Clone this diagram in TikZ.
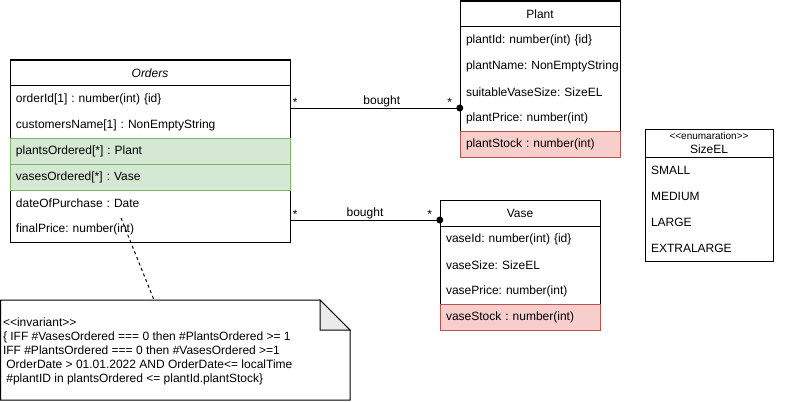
\documentclass[tikz,border=0pt]{standalone}
\usepackage{fontspec}
\setmainfont{Liberation Sans}
\usetikzlibrary{positioning, fit, backgrounds}
\definecolor{rowgreen}{HTML}{D5E8D4}
\definecolor{linegreen}{HTML}{82B366}
\definecolor{rowred}{HTML}{F8CECC}
\definecolor{linered}{HTML}{B85450}
\definecolor{foldgray}{HTML}{EBEBEB}
\newcommand{\stereo}[1]{<\kern0pt<#1>\kern0pt>}
\frenchspacing

\begin{document}
\begin{tikzpicture}[
  x=1pt, y=-1pt, line width=1pt,
  head/.style={draw, minimum height=26pt, inner sep=0pt, outer sep=0pt, font=\fontsize{12}{14}\selectfont},
  attr/.style={minimum height=26pt, text width=#1, inner xsep=6pt, inner ysep=0pt, outer sep=0pt, align=left, font=\fontsize{12}{14}\selectfont},
  keyattr/.style={attr=#1, fill=rowgreen, draw=linegreen},
  stockattr/.style={attr=#1, fill=rowred, draw=linered},
  frame/.style={draw, inner sep=0pt},
  mult/.style={above, inner sep=1pt, font=\fontsize{12}{14}\selectfont},
  node distance=0pt
]
  \useasboundingbox (0,0) rectangle (791,401);

  % Orders
  \node[head, minimum width=280pt, anchor=north west, font=\fontsize{12}{14}\selectfont\itshape] (ordHead) at (10,60) {Orders};
  \node[attr=268pt, below=of ordHead] (ordId) {orderId[1] : number(int) \{id\}};
  \node[attr=268pt, below=of ordId] (ordName) {customersName[1] : NonEmptyString};
  \node[keyattr=268pt, below=of ordName] (ordPlants) {plantsOrdered[*] : Plant};
  \node[keyattr=268pt, below=of ordPlants] (ordVases) {vasesOrdered[*] : Vase};
  \node[attr=268pt, below=of ordVases] (ordDate) {dateOfPurchase : Date};
  \node[attr=268pt, below=of ordDate] (ordPrice) {finalPrice: number(int)};
  \begin{scope}[on background layer]
    \node[frame, fit=(ordHead)(ordPrice)] (orders) {};
  \end{scope}

  % Plant
  \node[head, minimum width=160pt, anchor=north west] (plantHead) at (460,1) {Plant};
  \node[attr=148pt, below=of plantHead] (plantId) {plantId: number(int) \{id\}};
  \node[attr=148pt, below=of plantId] (plantName) {\mbox{plantName: NonEmptyString}};
  \node[attr=148pt, below=of plantName] (plantSize) {suitableVaseSize: SizeEL};
  \node[attr=148pt, below=of plantSize] (plantPrice) {plantPrice: number(int)};
  \node[stockattr=148pt, below=of plantPrice] (plantStock) {plantStock : number(int)};
  \begin{scope}[on background layer]
    \node[frame, fit=(plantHead)(plantStock)] (plant) {};
  \end{scope}

  % Vase
  \node[head, minimum width=160pt, anchor=north west] (vaseHead) at (440,200) {Vase};
  \node[attr=148pt, below=of vaseHead] (vaseId) {vaseId: number(int) \{id\}};
  \node[attr=148pt, below=of vaseId] (vaseSize) {vaseSize: SizeEL};
  \node[attr=148pt, below=of vaseSize] (vasePrice) {vasePrice: number(int)};
  \node[stockattr=148pt, below=of vasePrice] (vaseStock) {vaseStock : number(int)};
  \begin{scope}[on background layer]
    \node[frame, fit=(vaseHead)(vaseStock)] (vase) {};
  \end{scope}

  % SizeEL
  \node[head, minimum width=128pt, minimum height=28pt, anchor=north west, align=center] (sizeHead) at (645,129)
    {{\fontsize{10}{11}\selectfont\stereo{enumaration}}\\SizeEL};
  \node[attr=116pt, below=of sizeHead] (sizeS) {SMALL};
  \node[attr=116pt, below=of sizeS] (sizeM) {MEDIUM};
  \node[attr=116pt, below=of sizeM] (sizeL) {LARGE};
  \node[attr=116pt, below=of sizeL] (sizeXL) {EXTRALARGE};
  \begin{scope}[on background layer]
    \node[frame, fit=(sizeHead)(sizeXL)] (sizeEL) {};
  \end{scope}

  % associations
  \draw (orders.east |- 0,108) -- node[mult, pos=0.03] {*} node[mult, pos=0.54] {bought} node[mult, pos=0.94] {*} (plant.west |- 0,108);
  \fill (plant.west |- 0,108) circle (3.5pt);
  \draw (orders.east |- 0,220) -- node[mult, pos=0.033] {*} node[mult] {bought} node[mult, pos=0.933] {*} (vase.west |- 0,220);
  \fill (vase.west |- 0,220) circle (3.5pt);

  % invariant note
  \coordinate (noteNW) at (0.5,300);
  \draw (noteNW) -- ++(319.5,0) -- ++(30,30) -- ++(0,70) -- ++(-349.5,0) -- cycle;
  \filldraw[fill=foldgray] (320,300) -- (320,330) -- (350,330) -- cycle;
  \node[anchor=west, align=left, inner sep=2pt, font=\fontsize{12}{14}\selectfont] (invText) at (0.5,351)
    {\stereo{invariant}\\
     \{ IFF \#VasesOrdered === 0 then \#PlantsOrdered >= 1\\
     IFF \#PlantsOrdered === 0 then \#VasesOrdered >=1\\
     \ OrderDate > 01.01.2022 AND OrderDate<= localTime\\
     \ \#plantID in plantsOrdered <= plantId.plantStock\}};
  \coordinate (invAnchor) at (121,218);
  \coordinate (noteTop) at (154,300);
  \draw[dash pattern=on 3pt off 3pt] (invAnchor) -- (noteTop);
\end{tikzpicture}
\end{document}
